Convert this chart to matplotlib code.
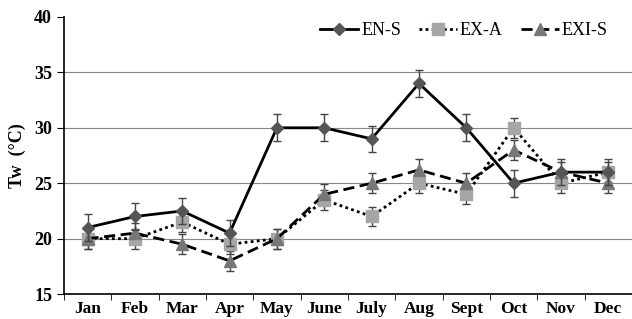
import numpy as np
import matplotlib.pyplot as plt

months = ['Jan', 'Feb', 'Mar', 'Apr', 'May', 'June', 'July', 'Aug', 'Sept', 'Oct', 'Nov', 'Dec']
en_s = [21, 22, 22.5, 20.5, 30, 30, 29, 34, 30, 25, 26, 26]
ex_a = [20, 20, 21.5, 19.5, 20, 23.5, 22, 25, 24, 30, 25, 26]
exi_s = [20, 20.5, 19.5, 18, 20, 24, 25, 26.2, 25, 28, 26, 25]
en_s_err = [1.2, 1.2, 1.2, 1.2, 1.2, 1.2, 1.2, 1.2, 1.2, 1.2, 1.2, 1.2]
ex_a_err = [0.9, 0.9, 0.9, 0.9, 0.9, 0.9, 0.9, 0.9, 0.9, 0.9, 0.9, 0.9]
exi_s_err = [0.9, 0.9, 0.9, 0.9, 0.9, 0.9, 0.9, 1.0, 0.9, 0.9, 0.9, 0.9]

plt.rcParams['font.family'] = 'Liberation Serif'

x = np.arange(len(months))

fig = plt.figure(figsize=(6.32, 3.19), dpi=100)
ax = fig.add_axes([0.101, 0.078, 0.899, 0.869])

ax.errorbar(x, en_s, yerr=en_s_err, color='black', lw=2, marker='D', ms=6,
            mfc='#555555', mec='#555555', ecolor='#444444', elinewidth=1, capsize=3, label='EN-S', zorder=4)
ax.errorbar(x, ex_a, yerr=ex_a_err, color='black', lw=2, ls=(0, (1, 1.2)), marker='s', ms=8,
            mfc='#a6a6a6', mec='#a6a6a6', ecolor='#444444', elinewidth=1, capsize=3, label='EX-A', zorder=3)
ax.errorbar(x, exi_s, yerr=exi_s_err, color='black', lw=2, ls=(0, (4, 2)), marker='^', ms=8,
            mfc='#777777', mec='#777777', ecolor='#444444', elinewidth=1, capsize=3, label='EXI-S', zorder=3)

ax.set_xlim(-0.5, 11.5)
ax.set_ylim(15, 40)
ax.set_yticks([15, 20, 25, 30, 35, 40])
for v in [20, 25, 30, 35]:
    ax.axhline(v, color='#888888', lw=0.8, zorder=0)

ax.set_xticks(x)
ax.set_xticklabels(months, fontsize=12.5, fontweight='bold')
ax.set_xticks(np.arange(-0.5, 12, 1), minor=True)
ax.tick_params(axis='x', which='major', length=0, pad=5)
ax.tick_params(axis='x', which='minor', length=4, direction='out')
ax.tick_params(axis='y', length=5, direction='out', labelsize=13)
for t in ax.get_yticklabels():
    t.set_fontweight('bold')

ax.spines['top'].set_visible(False)
ax.spines['right'].set_visible(False)
ax.spines['left'].set_linewidth(1.2)
ax.spines['bottom'].set_linewidth(1.2)

ax.set_ylabel('Tw  (°C)', fontsize=13, fontweight='bold', labelpad=6)

handles, labels = ax.get_legend_handles_labels()
handles = [h[0] for h in handles]
ax.legend(handles, labels, loc='upper right', ncol=3, frameon=False, fontsize=13,
          bbox_to_anchor=(0.985, 1.04), handlelength=2.1, columnspacing=1.0, handletextpad=0.15)

fig.savefig('out.png', dpi=100)
